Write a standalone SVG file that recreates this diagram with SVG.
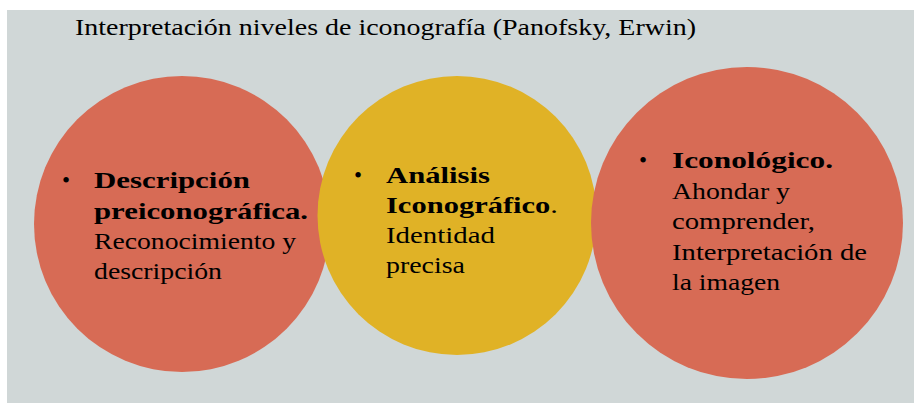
<svg xmlns="http://www.w3.org/2000/svg" width="914" height="403" viewBox="0 0 914 403">
<style>
.t{font-family:"Liberation Serif","Times New Roman",serif;font-size:23px;fill:#000}
.b{font-weight:bold}
.red{fill:#D76B55}
.yel{fill:#E0B226}
</style>
<rect x="0" y="0" width="914" height="403" fill="#FFFFFF"/>
<rect x="7" y="10" width="907" height="393" fill="#D0D7D7"/>
<text class="t" x="75" y="35" font-size="23" textLength="621" lengthAdjust="spacingAndGlyphs">Interpretación niveles de iconografía (Panofsky, Erwin)</text>
<g id="node-descripcion">
<circle class="red" cx="182" cy="224" r="148"/>
<text class="t" x="66" y="188" text-anchor="middle">•</text>
<text class="t b" x="94" y="188" textLength="156" lengthAdjust="spacingAndGlyphs">Descripción</text>
<text class="t b" x="94" y="218.5" textLength="214" lengthAdjust="spacingAndGlyphs">preiconográfica.</text>
<text class="t" x="94" y="249" textLength="202" lengthAdjust="spacingAndGlyphs">Reconocimiento y</text>
<text class="t" x="94" y="279" textLength="128" lengthAdjust="spacingAndGlyphs">descripción</text>
</g>
<g id="node-analisis">
<circle class="yel" cx="457" cy="215.5" r="139.5"/>
<text class="t" x="358" y="183" text-anchor="middle">•</text>
<text class="t b" x="386" y="183" textLength="104" lengthAdjust="spacingAndGlyphs">Análisis</text>
<text class="t" x="386" y="213" textLength="172" lengthAdjust="spacingAndGlyphs"><tspan class="b">Iconográfico</tspan>.</text>
<text class="t" x="386" y="243" textLength="109" lengthAdjust="spacingAndGlyphs">Identidad</text>
<text class="t" x="386" y="273" textLength="79" lengthAdjust="spacingAndGlyphs">precisa</text>
</g>
<g id="node-iconologico">
<circle class="red" cx="747" cy="223" r="156"/>
<text class="t" x="643" y="168" text-anchor="middle">•</text>
<text class="t b" x="672" y="168" textLength="161" lengthAdjust="spacingAndGlyphs">Iconológico.</text>
<text class="t" x="672" y="198.5" textLength="118" lengthAdjust="spacingAndGlyphs">Ahondar y</text>
<text class="t" x="672" y="229" textLength="143" lengthAdjust="spacingAndGlyphs">comprender,</text>
<text class="t" x="672" y="259.5" textLength="195" lengthAdjust="spacingAndGlyphs">Interpretación de</text>
<text class="t" x="672" y="290" textLength="108" lengthAdjust="spacingAndGlyphs">la imagen</text>
</g>
<g id="connectors"></g>
</svg>
